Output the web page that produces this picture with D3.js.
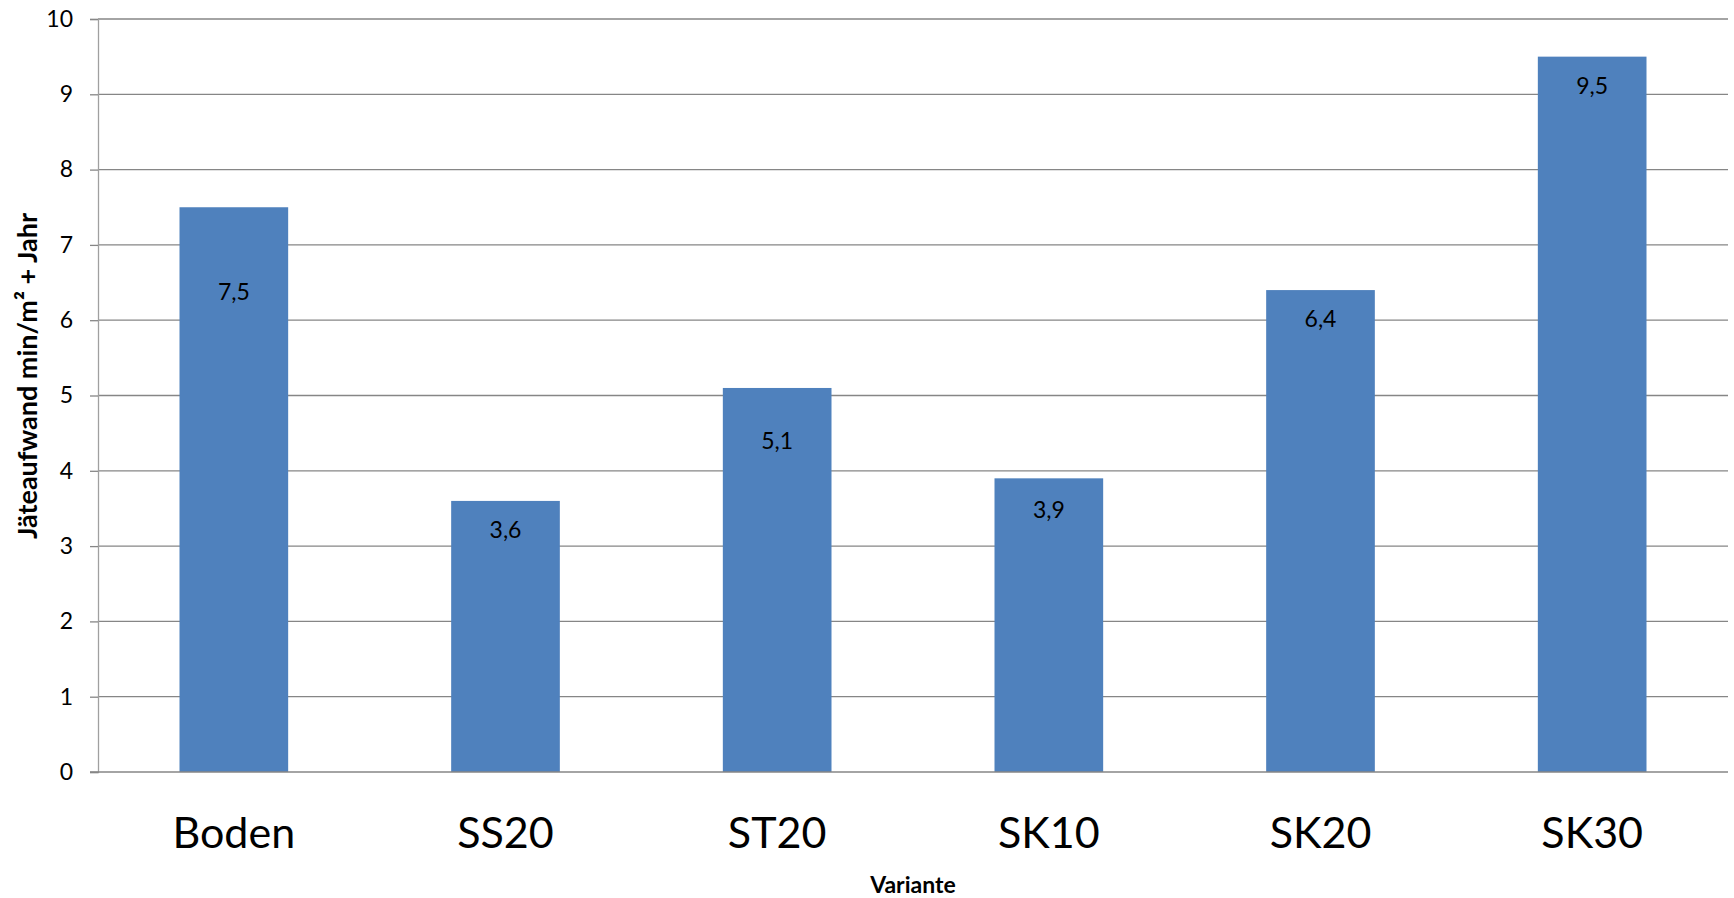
<!DOCTYPE html>
<html>
<head>
<meta charset="utf-8">
<script src="https://cdn.jsdelivr.net/npm/d3@7"></script>
<style>
  html, body { margin: 0; padding: 0; background: #fff; }
  svg { display: block; font-family: Lato, "Open Sans", sans-serif; }
</style>
</head>
<body>
<svg id="chart" width="1734" height="898"></svg>
<script>
// Jäteaufwand je Variante
const categories = ["Boden", "SS20", "ST20", "SK10", "SK20", "SK30"];
const values = [7.5, 3.6, 5.1, 3.9, 6.4, 9.5];
const valueLabels = ["7,5", "3,6", "5,1", "3,9", "6,4", "9,5"];
const yTicks = [0, 1, 2, 3, 4, 5, 6, 7, 8, 9, 10];
const yTitle = "Jäteaufwand min/m² + Jahr";
const xTitle = "Variante";

const W = 1734, H = 898;
const m = { left: 98, right: 6, top: 19, bottom: 126 };
const svg = d3.select("#chart");

const x = d3.scaleBand()
  .domain(categories)
  .range([m.left, W - m.right])
  .paddingInner(0.6)
  .paddingOuter(0.3);

const y = d3.scaleLinear()
  .domain([0, 10])
  .range([H - m.bottom, m.top]);

const gridColor = "#868686";

// horizontal gridlines
svg.append("g")
  .selectAll("line")
  .data(yTicks.filter(d => d > 0))
  .join("line")
  .attr("x1", m.left)
  .attr("x2", W - m.right)
  .attr("y1", d => y(d))
  .attr("y2", d => y(d))
  .attr("stroke", gridColor)
  .attr("stroke-width", 1.3);

// value axis
const yAxis = svg.append("g")
  .attr("transform", `translate(${m.left},0)`)
  .call(d3.axisLeft(y).tickValues(yTicks).tickSize(8).tickPadding(17).tickFormat(d3.format("d")));
yAxis.select(".domain").attr("stroke", "#a0a0a0").attr("stroke-width", 1.3);
yAxis.selectAll(".tick line").attr("stroke", gridColor).attr("stroke-width", 1.3);
yAxis.selectAll(".tick text")
  .attr("fill", "#000")
  .style("font-size", "23px")
  .style("font-family", "Lato, sans-serif");

// bars
svg.append("g")
  .selectAll("rect")
  .data(values)
  .join("rect")
  .attr("x", (d, i) => x(categories[i]))
  .attr("width", x.bandwidth())
  .attr("y", d => y(d))
  .attr("height", d => y(0) - y(d))
  .attr("fill", "#4f81bd");

// category axis baseline
svg.append("line")
  .attr("x1", m.left - 8)
  .attr("x2", W - m.right)
  .attr("y1", y(0))
  .attr("y2", y(0))
  .attr("stroke", gridColor)
  .attr("stroke-width", 1.3);

// value labels inside the bars (distance from bar top to text baseline)
const labelDrop = [93, 37, 61, 40, 37, 37];
svg.append("g")
  .selectAll("text")
  .data(values)
  .join("text")
  .attr("x", (d, i) => x(categories[i]) + x.bandwidth() / 2)
  .attr("y", (d, i) => y(d) + labelDrop[i])
  .attr("text-anchor", "middle")
  .style("font-size", "23px")
  .attr("fill", "#000")
  .text((d, i) => valueLabels[i]);

// category labels
svg.append("g")
  .selectAll("text")
  .data(categories)
  .join("text")
  .attr("x", d => x(d) + x.bandwidth() / 2)
  .attr("y", 848)
  .attr("text-anchor", "middle")
  .style("font-size", "43px")
  .attr("fill", "#000")
  .text(d => d);

// axis titles
svg.append("text")
  .attr("x", (m.left + W - m.right) / 2)
  .attr("y", 893)
  .attr("text-anchor", "middle")
  .style("font-size", "23px")
  .style("font-weight", "bold")
  .text(xTitle);

svg.append("text")
  .attr("transform", `translate(37,376) rotate(-90)`)
  .attr("text-anchor", "middle")
  .style("font-size", "27px")
  .style("font-weight", "bold")
  .text(yTitle);
</script>
</body>
</html>
